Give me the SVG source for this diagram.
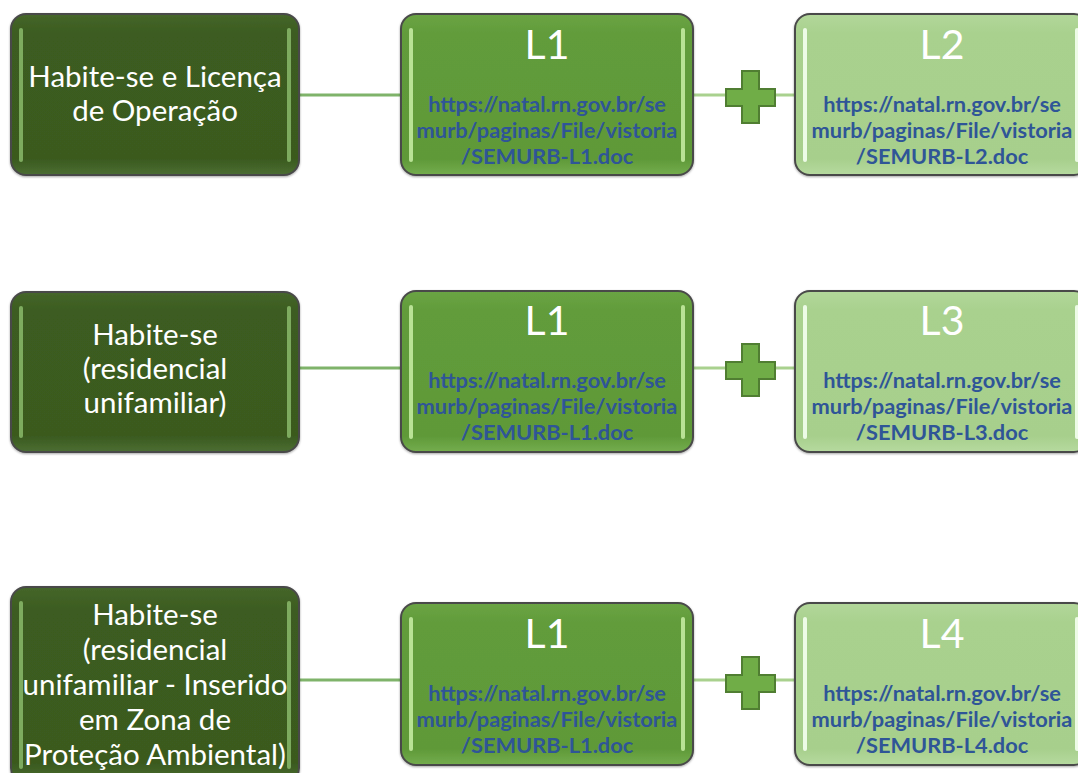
<svg xmlns="http://www.w3.org/2000/svg" width="1078" height="773" viewBox="0 0 1078 773">
<defs>
<linearGradient id="gDark" x1="0" y1="0" x2="0" y2="1">
<stop offset="0" stop-color="#45662a"/><stop offset="0.12" stop-color="#3c5c20"/><stop offset="0.9" stop-color="#3a5a1f"/><stop offset="1" stop-color="#4c6e33"/>
</linearGradient>
<linearGradient id="gMid" x1="0" y1="0" x2="0" y2="1">
<stop offset="0" stop-color="#6aa444"/><stop offset="0.12" stop-color="#629c3b"/><stop offset="0.9" stop-color="#5f9938"/><stop offset="1" stop-color="#74ad4e"/>
</linearGradient>
<linearGradient id="gLight" x1="0" y1="0" x2="0" y2="1">
<stop offset="0" stop-color="#b2d79a"/><stop offset="0.12" stop-color="#a9d18e"/><stop offset="0.9" stop-color="#a7cf8c"/><stop offset="1" stop-color="#b6da9f"/>
</linearGradient>
<filter id="sh" x="-5%" y="-5%" width="110%" height="115%">
<feDropShadow dx="0" dy="1" stdDeviation="1.2" flood-color="#000" flood-opacity="0.35"/>
</filter>
</defs>
<style>
.box{stroke:#4a4a4a;stroke-width:2;filter:url(#sh)}
.dark{fill:url(#gDark)}
.mid{fill:url(#gMid)}
.light{fill:url(#gLight)}
.hlD{fill:#8fbf6f;opacity:0.8}
.hlM{fill:#c9eea6;opacity:0.85}
.hlL{fill:#f4fff0;opacity:0.9}
.ttl{font-family:Lato,"Liberation Sans",sans-serif;font-size:29.5px;fill:#ffffff;text-anchor:middle}
.big{font-family:Lato,"Liberation Sans",sans-serif;font-size:41px;fill:#ffffff;text-anchor:middle}
.url{font-family:Lato,"Liberation Sans",sans-serif;font-weight:bold;font-size:21.8px;fill:#2f5597;text-anchor:middle}
.c1{stroke:#7fb36a;stroke-width:3;fill:none}
.c2{stroke:#a9d18e;stroke-width:3;fill:none}
.plus{fill:#70ad47;stroke:#507e32;stroke-width:2}
</style>

<g id="connectors">
<line class="c1" x1="299" y1="95" x2="401" y2="95"/>
<line class="c2" x1="693" y1="95" x2="795" y2="95"/>
<line class="c1" x1="299" y1="368" x2="401" y2="368"/>
<line class="c2" x1="693" y1="368" x2="795" y2="368"/>
<line class="c1" x1="299" y1="680" x2="401" y2="680"/>
<line class="c2" x1="693" y1="680" x2="795" y2="680"/>
</g>

<g id="plus1"><path class="plus" d="M742 71h17v18h16v17h-16v17h-17v-17h-16v-17h16z"/></g>
<g id="plus2"><path class="plus" d="M742 344h17v18h16v17h-16v17h-17v-17h-16v-17h16z"/></g>
<g id="plus3"><path class="plus" d="M742 657h17v18h16v17h-16v17h-17v-17h-16v-17h16z"/></g>

<!-- Row 1 -->
<g id="n1">
<rect class="box dark" x="11" y="14" width="288" height="161" rx="15"/>
<rect class="hlD" x="19" y="28" width="4" height="134" rx="2"/>
<rect class="hlD" x="287" y="28" width="4" height="134" rx="2"/>
<text class="ttl" x="155" y="87">Habite-se e Licença</text>
<text class="ttl" x="155" y="121">de Operação</text>
</g>
<g id="n2">
<rect class="box mid" x="401" y="14" width="292" height="161" rx="15"/>
<rect class="hlM" x="409" y="28" width="4" height="134" rx="2"/>
<rect class="hlM" x="681" y="28" width="4" height="134" rx="2"/>
<text class="big" x="547" y="59">L1</text>
<text class="url" x="547" y="112">https://natal.rn.gov.br/se</text>
<text class="url" x="547" y="138">murb/paginas/File/vistoria</text>
<text class="url" x="547" y="164">/SEMURB-L1.doc</text>
</g>
<g id="n3">
<rect class="box light" x="795" y="14" width="294" height="161" rx="15"/>
<rect class="hlL" x="803" y="28" width="4" height="134" rx="2"/>
<rect class="hlL" x="1075" y="28" width="4" height="134" rx="2"/>
<text class="big" x="942" y="59">L2</text>
<text class="url" x="942" y="112">https://natal.rn.gov.br/se</text>
<text class="url" x="942" y="138">murb/paginas/File/vistoria</text>
<text class="url" x="942" y="164">/SEMURB-L2.doc</text>
</g>

<!-- Row 2 -->
<g id="n4">
<rect class="box dark" x="11" y="292" width="288" height="160" rx="15"/>
<rect class="hlD" x="19" y="306" width="4" height="132" rx="2"/>
<rect class="hlD" x="287" y="306" width="4" height="132" rx="2"/>
<text class="ttl" x="155" y="345">Habite-se</text>
<text class="ttl" x="155" y="379">(residencial</text>
<text class="ttl" x="155" y="413">unifamiliar)</text>
</g>
<g id="n5">
<rect class="box mid" x="401" y="291" width="292" height="161" rx="15"/>
<rect class="hlM" x="409" y="305" width="4" height="134" rx="2"/>
<rect class="hlM" x="681" y="305" width="4" height="134" rx="2"/>
<text class="big" x="547" y="335">L1</text>
<text class="url" x="547" y="388">https://natal.rn.gov.br/se</text>
<text class="url" x="547" y="414">murb/paginas/File/vistoria</text>
<text class="url" x="547" y="440">/SEMURB-L1.doc</text>
</g>
<g id="n6">
<rect class="box light" x="795" y="291" width="294" height="161" rx="15"/>
<rect class="hlL" x="803" y="305" width="4" height="134" rx="2"/>
<rect class="hlL" x="1075" y="305" width="4" height="134" rx="2"/>
<text class="big" x="942" y="335">L3</text>
<text class="url" x="942" y="388">https://natal.rn.gov.br/se</text>
<text class="url" x="942" y="414">murb/paginas/File/vistoria</text>
<text class="url" x="942" y="440">/SEMURB-L3.doc</text>
</g>

<!-- Row 3 -->
<g id="n7">
<rect class="box dark" x="11" y="587" width="288" height="196" rx="15"/>
<rect class="hlD" x="19" y="601" width="4" height="168" rx="2"/>
<rect class="hlD" x="287" y="601" width="4" height="168" rx="2"/>
<text class="ttl" x="155" y="625">Habite-se</text>
<text class="ttl" x="155" y="660">(residencial</text>
<text class="ttl" x="155" y="695">unifamiliar - Inserido</text>
<text class="ttl" x="155" y="730">em Zona de</text>
<text class="ttl" x="155" y="765">Proteção Ambiental)</text>
</g>
<g id="n8">
<rect class="box mid" x="401" y="603" width="292" height="162" rx="15"/>
<rect class="hlM" x="409" y="617" width="4" height="134" rx="2"/>
<rect class="hlM" x="681" y="617" width="4" height="134" rx="2"/>
<text class="big" x="547" y="648">L1</text>
<text class="url" x="547" y="701">https://natal.rn.gov.br/se</text>
<text class="url" x="547" y="727">murb/paginas/File/vistoria</text>
<text class="url" x="547" y="753">/SEMURB-L1.doc</text>
</g>
<g id="n9">
<rect class="box light" x="795" y="603" width="294" height="162" rx="15"/>
<rect class="hlL" x="803" y="617" width="4" height="134" rx="2"/>
<rect class="hlL" x="1075" y="617" width="4" height="134" rx="2"/>
<text class="big" x="942" y="648">L4</text>
<text class="url" x="942" y="701">https://natal.rn.gov.br/se</text>
<text class="url" x="942" y="727">murb/paginas/File/vistoria</text>
<text class="url" x="942" y="753">/SEMURB-L4.doc</text>
</g>
</svg>
